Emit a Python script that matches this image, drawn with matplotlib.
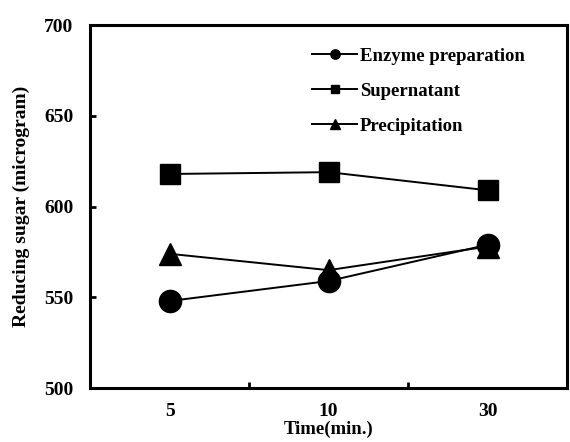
import numpy as np
import matplotlib.pyplot as plt

times = ['5', '10', '30']
enzyme = [548, 559, 579]
supernatant = [618, 619, 609]
precipitation = [574, 565, 578]

plt.rcParams['font.family'] = ['Liberation Serif', 'DejaVu Serif']
plt.rcParams['font.weight'] = 'bold'

fig = plt.figure(figsize=(5.7, 4.42), dpi=100)
ax = fig.add_axes([0.158, 0.122, 0.837, 0.821])

x = np.arange(len(times))
ax.plot(x, enzyme, '-o', color='black', lw=1.4, ms=16, label='Enzyme preparation')
ax.plot(x, supernatant, '-s', color='black', lw=1.4, ms=15, label='Supernatant')
ax.plot(x, precipitation, '-^', color='black', lw=1.4, ms=16, label='Precipitation')

ax.set_xlim(-0.5, 2.5)
ax.set_ylim(500, 700)
ax.set_yticks([500, 550, 600, 650, 700])
ax.set_xticks(x)
ax.set_xticklabels(times)
ax.set_xticks([0.5, 1.5], minor=True)
ax.tick_params(axis='x', which='major', length=0, pad=11, labelsize=14)
ax.tick_params(axis='x', which='minor', direction='in', length=4, width=2)
ax.tick_params(axis='y', direction='in', length=4, width=2, pad=12, labelsize=14)
for s in ax.spines.values():
    s.set_linewidth(2.2)

ax.set_xlabel('Time(min.)', fontsize=13.5, fontweight='bold', labelpad=0)
ax.set_ylabel('Reducing sugar (microgram)', fontsize=14, fontweight='bold', labelpad=10)

leg = ax.legend(loc='upper left', bbox_to_anchor=(0.43, 0.985), frameon=False,
                markerscale=0.42, handlelength=2.4, handletextpad=0.15,
                labelspacing=0.95, prop={'size': 13.5, 'weight': 'bold'})

fig.savefig('out.png', dpi=100)
